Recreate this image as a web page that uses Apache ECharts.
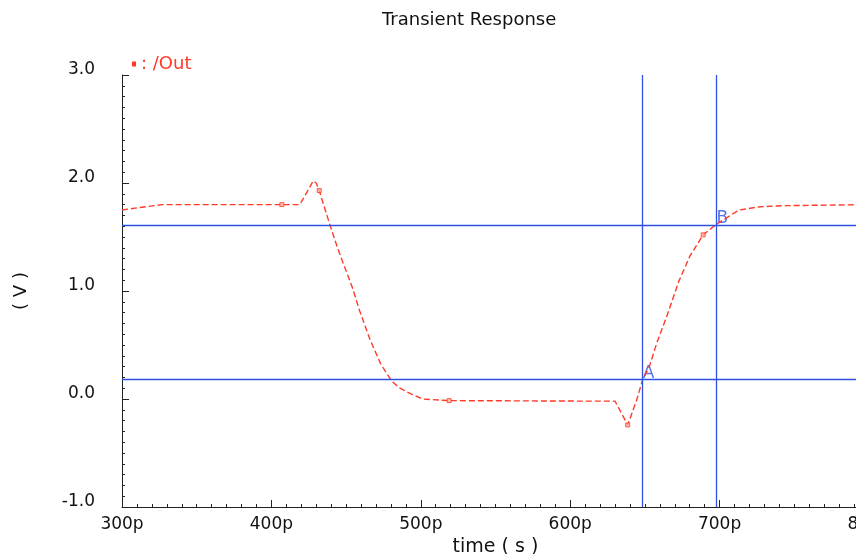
<!DOCTYPE html>
<html>
<head>
<meta charset="utf-8">
<script src="https://cdn.jsdelivr.net/npm/echarts@6/dist/echarts.min.js"></script>
<style>
  html, body { margin: 0; padding: 0; background: #fff; }
  #chart { width: 856px; height: 554px; }
</style>
</head>
<body>
<div id="chart"></div>
<script>
// /Out waveform, time in ps, volts
const timePs = [300, 310, 327, 407, 419, 424, 428, 430, 432, 439, 444, 448, 454, 459, 466, 473, 477, 481, 486, 493, 501, 513, 519, 620, 630, 638.5, 644.5, 648.5, 653, 658, 664.5, 673, 680, 689, 698, 713, 727, 742, 800]
const outV = [1.75, 1.77, 1.80, 1.80, 1.80, 1.92, 2.02, 2.00, 1.93, 1.62, 1.41, 1.26, 1.04, 0.82, 0.55, 0.33, 0.24, 0.16, 0.10, 0.05, 0.00, -0.01, -0.015, -0.02, -0.02, -0.24, -0.01, 0.18, 0.30, 0.52, 0.76, 1.10, 1.32, 1.52, 1.62, 1.75, 1.78, 1.79, 1.80]

// sparse symbols drawn on the trace
const markerTimes = [407, 432, 519, 638.5, 689]
const markerV = [1.80, 1.93, -0.015, -0.24, 1.52]

// cursors A and B
const cursorLabels = ['A', 'B']
const cursorX = [648.5, 698]
const cursorY = [0.176, 1.61]

const red = '#ff3a28'
const blue = '#2f4fe3'
const font = 'DejaVu Sans'

const chart = echarts.init(document.getElementById('chart'), null, { renderer: 'canvas' })

chart.setOption({
  backgroundColor: '#fff',
  animation: false,
  title: {
    text: 'Transient Response',
    left: 377,
    top: 6,
    textStyle: { fontFamily: font, fontSize: 18, fontWeight: 'normal', color: '#111' }
  },
  legend: {
    left: 127,
    top: 50,
    icon: 'rect',
    itemWidth: 4,
    itemHeight: 5,
    itemGap: 0,
    formatter: ': {name}',
    textStyle: { fontFamily: font, fontSize: 18, color: red },
    data: ['/Out']
  },
  grid: {
    left: 122,
    top: 75,
    right: -13,
    bottom: 47,
    outerBoundsMode: 'none'
  },
  xAxis: {
    type: 'value',
    min: 300,
    max: 800,
    interval: 100,
    name: 'time ( s )',
    nameLocation: 'middle',
    nameGap: 30,
    nameTextStyle: { fontFamily: font, fontSize: 19, color: '#111' },
    axisLine: { onZero: false, lineStyle: { color: '#222', width: 1 } },
    axisTick: { inside: true, length: 7, lineStyle: { color: '#222' } },
    minorTick: { show: true, splitNumber: 10, length: 3, lineStyle: { color: '#222' } },
    splitLine: { show: false },
    axisLabel: {
      fontFamily: font, fontSize: 17, color: '#111', margin: 9,
      formatter: (v) => v + 'p'
    }
  },
  yAxis: {
    type: 'value',
    min: -1,
    max: 3,
    interval: 1,
    name: '( V )',
    nameLocation: 'middle',
    nameGap: 92,
    nameTextStyle: { fontFamily: font, fontSize: 18, color: '#111' },
    axisLine: { show: true, onZero: false, lineStyle: { color: '#222', width: 1 } },
    axisTick: { inside: true, length: 7, lineStyle: { color: '#222' } },
    minorTick: { show: true, splitNumber: 10, length: 3, lineStyle: { color: '#222' } },
    splitLine: { show: false },
    axisLabel: {
      fontFamily: font, fontSize: 17, color: '#111', margin: 27,
      formatter: (v) => '{t|' + v.toFixed(1) + '}',
      rich: {
        t: { fontFamily: font, fontSize: 17, color: '#111', padding: [0, 0, 10, 0] }
      }
    }
  },
  series: [
    {
      name: '/Out',
      type: 'line',
      data: timePs.map((t, i) => [t, outV[i]]),
      showSymbol: false,
      symbol: 'none',
      itemStyle: { color: red },
      lineStyle: { color: red, width: 1.4, type: [6, 3] },
      z: 3
    },
    {
      name: '/Out',
      type: 'scatter',
      data: markerTimes.map((t, i) => [t, markerV[i]]),
      symbol: 'rect',
      symbolSize: 4,
      itemStyle: { color: '#ffb0a0', borderColor: red, borderWidth: 1 },
      z: 4
    },
    {
      name: 'cursors',
      type: 'scatter',
      data: cursorX.map((x, i) => ({ value: [x, cursorY[i]], name: cursorLabels[i] })),
      symbolSize: 0,
      label: {
        show: true,
        formatter: '{b}',
        position: [0, -15],
        fontFamily: font,
        fontSize: 17,
        color: blue
      },
      markLine: {
        silent: true,
        symbol: 'none',
        animation: false,
        label: { show: false },
        lineStyle: { color: blue, width: 1.3, type: 'solid' },
        data: cursorX.map((x) => ({ xAxis: x })).concat(cursorY.map((y) => ({ yAxis: y })))
      },
      z: 2
    }
  ]
})
</script>
</body>
</html>
